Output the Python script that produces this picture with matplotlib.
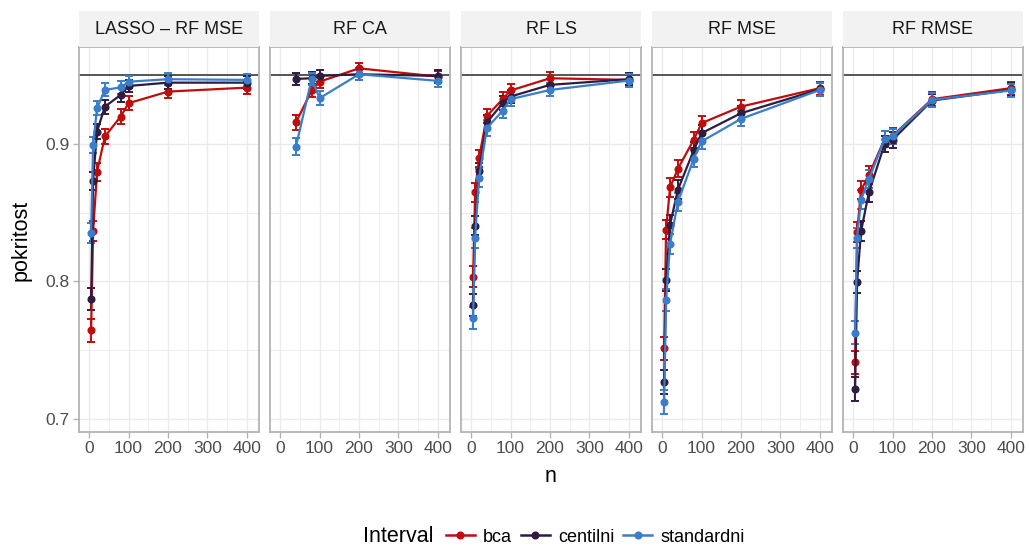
import numpy as np
import matplotlib
matplotlib.use("Agg")
import matplotlib.pyplot as plt
from matplotlib.lines import Line2D

plt.rcParams['font.family'] = ['Liberation Sans', 'DejaVu Sans']

# -------------------------------------------------------
# data: coverage ("pokritost") of bootstrap intervals by sample size n
# -------------------------------------------------------
panels = ["LASSO – RF MSE", "RF CA", "RF LS", "RF MSE", "RF RMSE"]
methods = ["bca", "centilni", "standardni"]
colors = {"bca": "#BF0D0D", "centilni": "#2F1C3F", "standardni": "#3A7DCB"}

n_full = [5, 10, 20, 40, 80, 100, 200, 400]
n_ca = [40, 80, 100, 200, 400]

lasso_bca        = [0.7645, 0.8364, 0.8795, 0.9053, 0.9198, 0.9295, 0.9379, 0.9408]
lasso_centilni   = [0.7874, 0.8732, 0.9089, 0.9270, 0.9355, 0.9420, 0.9444, 0.9444]
lasso_standardni = [0.8353, 0.8993, 0.9259, 0.9391, 0.9410, 0.9451, 0.9469, 0.9464]

ca_bca        = [0.9155, 0.9387, 0.9451, 0.9548, 0.9488]
ca_centilni   = [0.9471, 0.9476, 0.9493, 0.9505, 0.9493]
ca_standardni = [0.8980, 0.9471, 0.9331, 0.9505, 0.9457]

ls_bca        = [0.8034, 0.8647, 0.8896, 0.9203, 0.9324, 0.9387, 0.9476, 0.9464]
ls_centilni   = [0.7828, 0.8406, 0.8800, 0.9155, 0.9295, 0.9343, 0.9428, 0.9469]
ls_standardni = [0.7734, 0.8317, 0.8751, 0.9114, 0.9241, 0.9324, 0.9391, 0.9459]

mse_bca        = [0.7514, 0.8377, 0.8683, 0.8819, 0.9029, 0.9150, 0.9270, 0.9404]
mse_centilni   = [0.7266, 0.8009, 0.8413, 0.8667, 0.8952, 0.9077, 0.9222, 0.9396]
mse_standardni = [0.7125, 0.7862, 0.8273, 0.8577, 0.8891, 0.9017, 0.9181, 0.9391]

rmse_bca        = [0.7411, 0.8357, 0.8662, 0.8775, 0.9036, 0.9058, 0.9324, 0.9404]
rmse_centilni   = [0.7217, 0.7995, 0.8364, 0.8647, 0.9000, 0.9029, 0.9314, 0.9391]
rmse_standardni = [0.7628, 0.8317, 0.8594, 0.8744, 0.9036, 0.9053, 0.9319, 0.9387]

panel_data = {
    "LASSO – RF MSE": (n_full, [lasso_bca, lasso_centilni, lasso_standardni]),
    "RF CA": (n_ca, [ca_bca, ca_centilni, ca_standardni]),
    "RF LS": (n_full, [ls_bca, ls_centilni, ls_standardni]),
    "RF MSE": (n_full, [mse_bca, mse_centilni, mse_standardni]),
    "RF RMSE": (n_full, [rmse_bca, rmse_centilni, rmse_standardni]),
}

N_REP = 10000      # number of simulation repetitions (binomial CI of coverage)
NOMINAL = 0.95

# -------------------------------------------------------
# layout (pixel positions of the ggplot-like facets)
# -------------------------------------------------------
W, H = 1030, 547
fig = plt.figure(figsize=(W / 100, H / 100), dpi=100)

left0, pw, gap = 79, 180, 11
ptop, pbot = 47, 432
strip_top = 11

grid_col = "#EBEBEB"
border_col = "#B3B3B3"
tick_col = "#4D4D4D"

for i, name in enumerate(panels):
    x0 = left0 + i * (pw + gap)
    ax = fig.add_axes([x0 / W, 1 - pbot / H, pw / W, (pbot - ptop) / H])
    ns, series = panel_data[name]

    ax.axhline(NOMINAL, color="#3A3A3A", lw=1.2, zorder=2)
    for m, vals in zip(methods, series):
        p = np.array(vals)
        err = 1.96 * np.sqrt(p * (1 - p) / N_REP)
        ax.errorbar(ns, p, yerr=err, color=colors[m], lw=1.6, marker="o",
                    markersize=4.8, capsize=3.2, capthick=1.4, elinewidth=1.4,
                    zorder=3)

    ax.set_xlim(-25.75, 430.75)
    ax.set_ylim(0.6906, 0.9703)
    ax.set_xticks([0, 100, 200, 300, 400])
    ax.set_xticks([50, 150, 250, 350], minor=True)
    ax.set_yticks([0.7, 0.8, 0.9])
    ax.set_yticks([0.75, 0.85, 0.95], minor=True)
    ax.grid(which="major", color=grid_col, lw=1.0, zorder=0)
    ax.grid(which="minor", color=grid_col, lw=0.6, zorder=0)
    ax.set_axisbelow(True)
    for sp in ax.spines.values():
        sp.set_color(border_col)
        sp.set_linewidth(1.3)
    ax.tick_params(which="major", length=4, width=1, color=border_col,
                   labelcolor=tick_col, labelsize=12.5, pad=2.5)
    ax.tick_params(which="minor", length=0)
    if i == 0:
        ax.set_yticklabels(["0.7", "0.8", "0.9"])
    else:
        ax.tick_params(axis="y", which="major", length=0, labelleft=False)

    # facet strip
    sax = fig.add_axes([x0 / W, 1 - ptop / H, pw / W, (ptop - strip_top) / H])
    sax.set_facecolor("#F2F2F2")
    sax.set_xticks([])
    sax.set_yticks([])
    for sp in sax.spines.values():
        sp.set_visible(False)
    sax.text(0.5, 0.5, name, ha="center", va="center", fontsize=13,
             color="#1A1A1A", transform=sax.transAxes)

fig.text(551 / W, 1 - 477 / H, "n", ha="center", va="center", fontsize=15.5)
fig.text(21 / W, 1 - 240 / H, "pokritost", ha="center", va="center",
         rotation=90, fontsize=15.5)

# legend at the bottom
fig.text(398 / W, 1 - 537 / H, "Interval", ha="center", va="center", fontsize=15.5)
handles = [Line2D([], [], color=colors[m], lw=1.8, marker="o", markersize=4.8)
           for m in methods]
fig.legend(handles, methods, loc="center left", bbox_to_anchor=(446 / W, 1 - 537 / H),
           ncol=3, frameon=False, fontsize=13, handlelength=1.6, handletextpad=0.45,
           columnspacing=0.5, borderaxespad=0, borderpad=0)

fig.savefig("out.png", dpi=100, facecolor="white")
